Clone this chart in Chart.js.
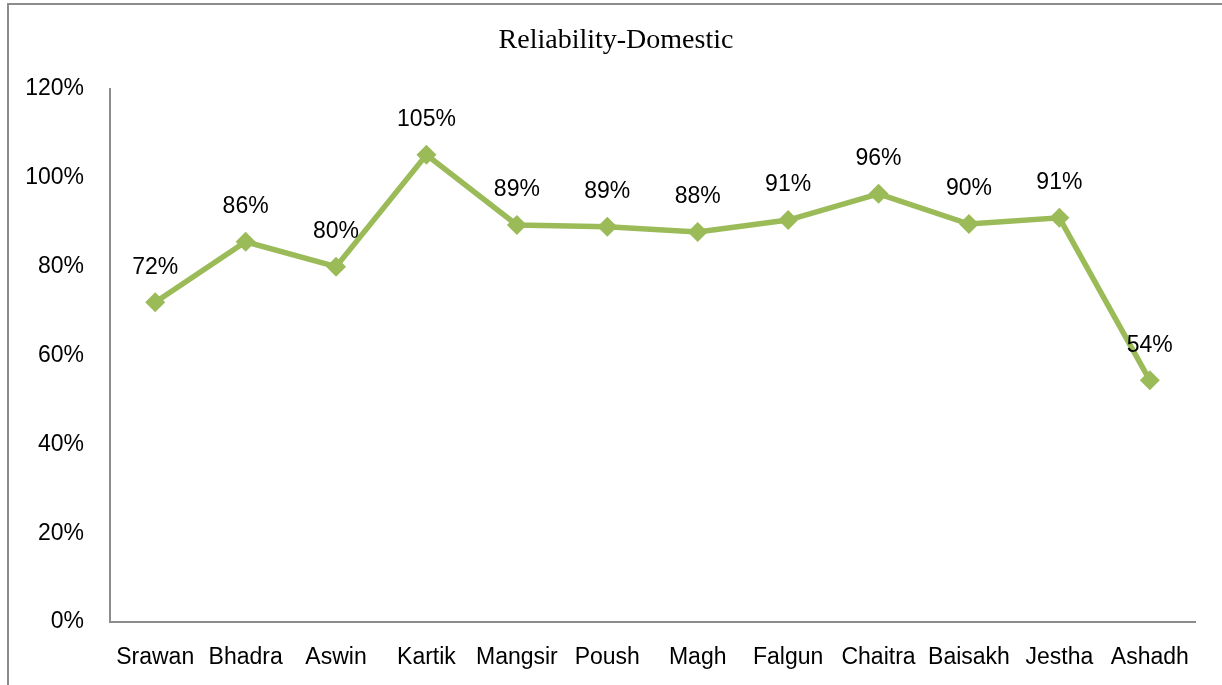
<!DOCTYPE html>
<html>
<head>
<meta charset="utf-8">
<script src="https://cdn.jsdelivr.net/npm/chart.js@4/dist/chart.umd.min.js"></script>
<style>
  html, body { margin: 0; padding: 0; background: #fff; overflow: hidden; }
  #wrap { position: relative; width: 1222px; height: 685px; overflow: hidden; }
  /* frame of the original sheet, only left and top edges show */
  #wrap:before {
    content: ''; position: absolute; left: 7px; top: 3px;
    width: 1400px; height: 900px; border: 2px solid #8c8c8c;
  }
  #chart { position: absolute; left: 0; top: 0; }
</style>
</head>
<body>
<div id="wrap"><canvas id="chart" width="1222" height="685"></canvas></div>
<script>
/***************************  Data  ******************************/
var months = ['Srawan', 'Bhadra', 'Aswin', 'Kartik', 'Mangsir', 'Poush',
              'Magh', 'Falgun', 'Chaitra', 'Baisakh', 'Jestha', 'Ashadh'];
var reliability = [72.0, 85.6, 80.0, 105.2, 89.4, 89.0, 87.8, 90.5, 96.4, 89.6, 91.0, 54.4];
var yTicks = [0, 20, 40, 60, 80, 100, 120];

var green = '#9BBB59';
var labelFont = { family: "'Liberation Sans', Arial, sans-serif", size: 23 };

// value labels above each point
var pointLabels = {
    id: 'pointLabels',
    afterLayout: function(chart) {
        // nudge the title so its centre sits where the original has it
        if (chart.titleBlock) chart.titleBlock.left = 37;
    },
    afterDatasetsDraw: function(chart) {
        var ctx = chart.ctx;
        var meta = chart.getDatasetMeta(0);
        ctx.save();
        ctx.font = labelFont.size + 'px ' + labelFont.family;
        ctx.fillStyle = '#000';
        ctx.textAlign = 'center';
        ctx.textBaseline = 'middle';
        meta.data.forEach(function(pt, i) {
            ctx.fillText(Math.round(reliability[i]) + '%', pt.x, pt.y - 35);
        });
        ctx.restore();
    }
};

new Chart(document.getElementById('chart'), {
    type: 'line',
    data: {
        labels: months,
        datasets: [{
            label: 'Reliability',
            data: reliability,
            borderColor: green,
            backgroundColor: green,
            borderWidth: 5.5,
            tension: 0,
            pointStyle: 'rectRot',
            pointRadius: 10,
            pointBorderWidth: 0,
            pointBackgroundColor: green
        }]
    },
    options: {
        responsive: false,
        animation: false,
        layout: { padding: { left: 0, right: 27, top: 0, bottom: 0 } },
        plugins: {
            legend: { display: false },
            tooltip: { enabled: false },
            title: {
                display: true,
                text: 'Reliability-Domestic',
                color: '#000',
                font: { family: "'Liberation Serif', 'Times New Roman', serif", size: 28, weight: 'normal', lineHeight: 1.2 },
                padding: { top: 24, bottom: 31.4 }
            }
        },
        scales: {
            x: {
                offset: true,
                grid: { display: false, drawTicks: false },
                border: { display: true, color: '#8c8c8c', width: 2 },
                ticks: { color: '#000', font: labelFont, padding: 22, maxRotation: 0, autoSkip: false },
                afterFit: function(scale) { scale.height = 63; }
            },
            y: {
                min: 0,
                max: 120,
                grid: { display: false, drawTicks: false },
                border: { display: true, color: '#8c8c8c', width: 2 },
                afterBuildTicks: function(scale) {
                    scale.ticks = yTicks.map(function(v) { return { value: v }; });
                },
                ticks: {
                    color: '#000',
                    font: labelFont,
                    padding: 26,
                    callback: function(v) { return v + '%'; }
                },
                afterFit: function(scale) { scale.width = 110; }
            }
        }
    },
    plugins: [pointLabels]
});
</script>
</body>
</html>
